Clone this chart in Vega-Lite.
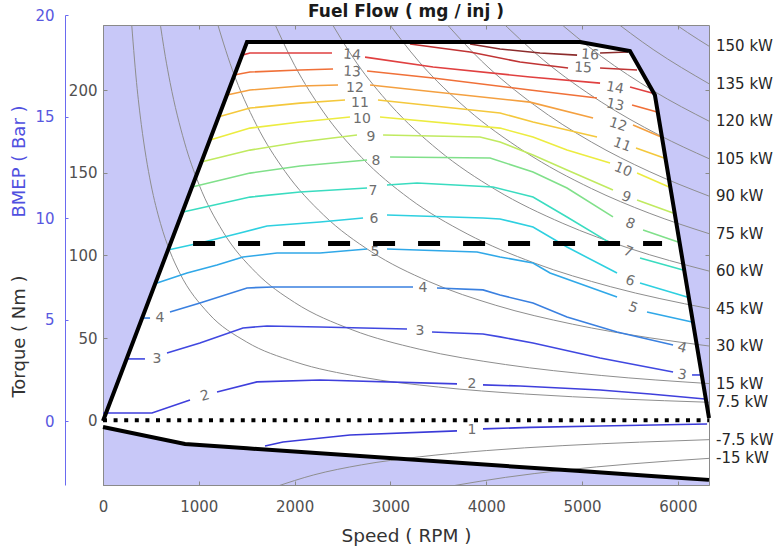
{
  "$schema": "https://vega.github.io/schema/vega-lite/v6.json",
  "autosize": {"type": "none"},
  "width": 606,
  "height": 460,
  "padding": {"left": 103, "top": 25, "right": 70, "bottom": 68},
  "background": "white",
  "config": {
    "view": {"fill": "#c8c8f8", "stroke": "#8a8a8a", "strokeWidth": 1},
    "axis": {"labelFont": "DejaVu Sans", "titleFont": "DejaVu Sans", "labelFontSize": 15, "titleFontWeight": "normal", "labelColor": "#505050", "titleColor": "#333333", "domainColor": "#8a8a8a", "tickColor": "#8a8a8a", "grid": false, "labelFlush": false},
    "text": {"font": "DejaVu Sans"}
  },
  "title": {"text": "Fuel Flow ( mg / inj )", "font": "DejaVu Sans", "fontSize": 17, "fontWeight": "bold", "color": "#1a1a1a", "anchor": "middle", "offset": -13},
  "datasets": {
    "env": [
      {"rpm": 0, "wot": 0, "motor": -3.6},
      {"rpm": 856, "wot": 130.4, "motor": -13.9},
      {"rpm": 1503, "wot": 229, "motor": -16.5},
      {"rpm": 4980, "wot": 229, "motor": -30.3},
      {"rpm": 5500, "wot": 223.6, "motor": -32.3},
      {"rpm": 5760, "wot": 197, "motor": -33.4},
      {"rpm": 6325, "wot": 1.8, "motor": -35.6}
    ],
    "power": [
      {"kw": "7.5", "rpm": 292, "torque": 245.3}, {"kw": "7.5", "rpm": 350, "torque": 204.6}, {"kw": "7.5", "rpm": 400, "torque": 179.1}, {"kw": "7.5", "rpm": 450, "torque": 159.2}, {"kw": "7.5", "rpm": 500, "torque": 143.2}, {"kw": "7.5", "rpm": 600, "torque": 119.4}, {"kw": "7.5", "rpm": 700, "torque": 102.3}, {"kw": "7.5", "rpm": 800, "torque": 89.5}, {"kw": "7.5", "rpm": 1100, "torque": 65.1}, {"kw": "7.5", "rpm": 1500, "torque": 47.7}, {"kw": "7.5", "rpm": 2000, "torque": 35.8}, {"kw": "7.5", "rpm": 2700, "torque": 26.5}, {"kw": "7.5", "rpm": 3500, "torque": 20.5}, {"kw": "7.5", "rpm": 4400, "torque": 16.3}, {"kw": "7.5", "rpm": 5400, "torque": 13.3}, {"kw": "7.5", "rpm": 6325, "torque": 11.3},
      {"kw": "15", "rpm": 585, "torque": 244.9}, {"kw": "15", "rpm": 650, "torque": 220.4}, {"kw": "15", "rpm": 700, "torque": 204.6}, {"kw": "15", "rpm": 850, "torque": 168.5}, {"kw": "15", "rpm": 1000, "torque": 143.2}, {"kw": "15", "rpm": 1250, "torque": 114.6}, {"kw": "15", "rpm": 1600, "torque": 89.5}, {"kw": "15", "rpm": 2000, "torque": 71.6}, {"kw": "15", "rpm": 2600, "torque": 55.1}, {"kw": "15", "rpm": 3300, "torque": 43.4}, {"kw": "15", "rpm": 4200, "torque": 34.1}, {"kw": "15", "rpm": 5200, "torque": 27.5}, {"kw": "15", "rpm": 6325, "torque": 22.6},
      {"kw": "30", "rpm": 1170, "torque": 244.9}, {"kw": "30", "rpm": 1350, "torque": 212.2}, {"kw": "30", "rpm": 1600, "torque": 179.1}, {"kw": "30", "rpm": 1900, "torque": 150.8}, {"kw": "30", "rpm": 2300, "torque": 124.6}, {"kw": "30", "rpm": 2800, "torque": 102.3}, {"kw": "30", "rpm": 3400, "torque": 84.3}, {"kw": "30", "rpm": 4100, "torque": 69.9}, {"kw": "30", "rpm": 4900, "torque": 58.5}, {"kw": "30", "rpm": 5700, "torque": 50.3}, {"kw": "30", "rpm": 6325, "torque": 45.3},
      {"kw": "45", "rpm": 1754, "torque": 245}, {"kw": "45", "rpm": 2000, "torque": 214.9}, {"kw": "45", "rpm": 2300, "torque": 186.8}, {"kw": "45", "rpm": 2700, "torque": 159.2}, {"kw": "45", "rpm": 3200, "torque": 134.3}, {"kw": "45", "rpm": 3800, "torque": 113.1}, {"kw": "45", "rpm": 4500, "torque": 95.5}, {"kw": "45", "rpm": 5300, "torque": 81.1}, {"kw": "45", "rpm": 6325, "torque": 67.9},
      {"kw": "60", "rpm": 2339, "torque": 245}, {"kw": "60", "rpm": 2650, "torque": 216.2}, {"kw": "60", "rpm": 3000, "torque": 191.0}, {"kw": "60", "rpm": 3500, "torque": 163.7}, {"kw": "60", "rpm": 4100, "torque": 139.7}, {"kw": "60", "rpm": 4800, "torque": 119.4}, {"kw": "60", "rpm": 5500, "torque": 104.2}, {"kw": "60", "rpm": 6325, "torque": 90.6},
      {"kw": "75", "rpm": 2923, "torque": 245}, {"kw": "75", "rpm": 3300, "torque": 217.0}, {"kw": "75", "rpm": 3800, "torque": 188.5}, {"kw": "75", "rpm": 4400, "torque": 162.8}, {"kw": "75", "rpm": 5100, "torque": 140.4}, {"kw": "75", "rpm": 5700, "torque": 125.6}, {"kw": "75", "rpm": 6325, "torque": 113.2},
      {"kw": "90", "rpm": 3508, "torque": 245}, {"kw": "90", "rpm": 3950, "torque": 217.6}, {"kw": "90", "rpm": 4500, "torque": 191.0}, {"kw": "90", "rpm": 5100, "torque": 168.5}, {"kw": "90", "rpm": 5700, "torque": 150.8}, {"kw": "90", "rpm": 6325, "torque": 135.9},
      {"kw": "105", "rpm": 4093, "torque": 245}, {"kw": "105", "rpm": 4600, "torque": 218.0}, {"kw": "105", "rpm": 5200, "torque": 192.8}, {"kw": "105", "rpm": 5800, "torque": 172.9}, {"kw": "105", "rpm": 6325, "torque": 158.5},
      {"kw": "120", "rpm": 4677, "torque": 245}, {"kw": "120", "rpm": 5200, "torque": 220.4}, {"kw": "120", "rpm": 5750, "torque": 199.3}, {"kw": "120", "rpm": 6325, "torque": 181.2},
      {"kw": "135", "rpm": 5262, "torque": 245}, {"kw": "135", "rpm": 5750, "torque": 224.2}, {"kw": "135", "rpm": 6325, "torque": 203.8},
      {"kw": "150", "rpm": 5847, "torque": 245}, {"kw": "150", "rpm": 6100, "torque": 234.8}, {"kw": "150", "rpm": 6325, "torque": 226.5},
      {"kw": "-7.5", "rpm": 1800, "torque": -39.8}, {"kw": "-7.5", "rpm": 2200, "torque": -32.6}, {"kw": "-7.5", "rpm": 2700, "torque": -26.5}, {"kw": "-7.5", "rpm": 3300, "torque": -21.7}, {"kw": "-7.5", "rpm": 4000, "torque": -17.9}, {"kw": "-7.5", "rpm": 4800, "torque": -14.9}, {"kw": "-7.5", "rpm": 5600, "torque": -12.8}, {"kw": "-7.5", "rpm": 6325, "torque": -11.3},
      {"kw": "-15", "rpm": 3650, "torque": -39.2}, {"kw": "-15", "rpm": 4200, "torque": -34.1}, {"kw": "-15", "rpm": 4800, "torque": -29.8}, {"kw": "-15", "rpm": 5500, "torque": -26.0}, {"kw": "-15", "rpm": 6325, "torque": -22.6}
    ],
    "contours": [
      {"level": 1, "seg": "1a", "rpm": 1691, "torque": -15.1}, {"level": 1, "seg": "1a", "rpm": 1879, "torque": -12.7}, {"level": 1, "seg": "1a", "rpm": 2578, "torque": -8.5}, {"level": 1, "seg": "1a", "rpm": 3695, "torque": -6.0},
      {"level": 1, "seg": "1b", "rpm": 3966, "torque": -4.8}, {"level": 1, "seg": "1b", "rpm": 4457, "torque": -3.9}, {"level": 1, "seg": "1b", "rpm": 5188, "torque": -3.0}, {"level": 1, "seg": "1b", "rpm": 6305, "torque": -1.8},
      {"level": 2, "seg": "2a", "rpm": 0, "torque": 4.8}, {"level": 2, "seg": "2a", "rpm": 511, "torque": 4.8}, {"level": 2, "seg": "2a", "rpm": 908, "torque": 12.7},
      {"level": 2, "seg": "2b", "rpm": 1190, "torque": 17.5}, {"level": 2, "seg": "2b", "rpm": 1607, "torque": 23.6}, {"level": 2, "seg": "2b", "rpm": 2265, "torque": 24.8}, {"level": 2, "seg": "2b", "rpm": 3695, "torque": 22.4},
      {"level": 2, "seg": "2c", "rpm": 3966, "torque": 21.8}, {"level": 2, "seg": "2c", "rpm": 4353, "torque": 21.1}, {"level": 2, "seg": "2c", "rpm": 5188, "torque": 18.7}, {"level": 2, "seg": "2c", "rpm": 5710, "torque": 16.3}, {"level": 2, "seg": "2c", "rpm": 6284, "torque": 13.3},
      {"level": 3, "seg": "3a", "rpm": 261, "torque": 37.5}, {"level": 3, "seg": "3a", "rpm": 438, "torque": 37.5},
      {"level": 3, "seg": "3b", "rpm": 668, "torque": 41.1}, {"level": 3, "seg": "3b", "rpm": 1012, "torque": 47.1}, {"level": 3, "seg": "3b", "rpm": 1461, "torque": 56.2}, {"level": 3, "seg": "3b", "rpm": 1712, "torque": 57.4}, {"level": 3, "seg": "3b", "rpm": 2265, "torque": 56.8}, {"level": 3, "seg": "3b", "rpm": 3173, "torque": 55.6},
      {"level": 3, "seg": "3c", "rpm": 3434, "torque": 53.8}, {"level": 3, "seg": "3c", "rpm": 3966, "torque": 52.6}, {"level": 3, "seg": "3c", "rpm": 4144, "torque": 50.8}, {"level": 3, "seg": "3c", "rpm": 4488, "torque": 47.1}, {"level": 3, "seg": "3c", "rpm": 5188, "torque": 38.1}, {"level": 3, "seg": "3c", "rpm": 5950, "torque": 29.6},
      {"level": 3, "seg": "3d", "rpm": 6148, "torque": 27.8}, {"level": 3, "seg": "3d", "rpm": 6242, "torque": 27.8},
      {"level": 4, "seg": "4a", "rpm": 407, "torque": 62.2}, {"level": 4, "seg": "4a", "rpm": 491, "torque": 62.2},
      {"level": 4, "seg": "4b", "rpm": 699, "torque": 65.9}, {"level": 4, "seg": "4b", "rpm": 1012, "torque": 71.3}, {"level": 4, "seg": "4b", "rpm": 1503, "torque": 80.4}, {"level": 4, "seg": "4b", "rpm": 1775, "torque": 81.0}, {"level": 4, "seg": "4b", "rpm": 2265, "torque": 81.0}, {"level": 4, "seg": "4b", "rpm": 3236, "torque": 81.0},
      {"level": 4, "seg": "4c", "rpm": 3486, "torque": 80.4}, {"level": 4, "seg": "4c", "rpm": 3966, "torque": 79.2}, {"level": 4, "seg": "4c", "rpm": 4144, "torque": 76.1}, {"level": 4, "seg": "4c", "rpm": 4488, "torque": 71.3}, {"level": 4, "seg": "4c", "rpm": 4843, "torque": 62.8}, {"level": 4, "seg": "4c", "rpm": 5365, "torque": 53.8}, {"level": 4, "seg": "4c", "rpm": 5950, "torque": 45.9},
      {"level": 5, "seg": "5a", "rpm": 564, "torque": 83.4}, {"level": 5, "seg": "5a", "rpm": 877, "torque": 89.4}, {"level": 5, "seg": "5a", "rpm": 1190, "torque": 94.3}, {"level": 5, "seg": "5a", "rpm": 1461, "torque": 99.1}, {"level": 5, "seg": "5a", "rpm": 1816, "torque": 101.5}, {"level": 5, "seg": "5a", "rpm": 2265, "torque": 101.5}, {"level": 5, "seg": "5a", "rpm": 2756, "torque": 103.9},
      {"level": 5, "seg": "5b", "rpm": 2964, "torque": 103.9}, {"level": 5, "seg": "5b", "rpm": 3904, "torque": 102.1}, {"level": 5, "seg": "5b", "rpm": 4144, "torque": 99.1}, {"level": 5, "seg": "5b", "rpm": 4488, "torque": 95.5}, {"level": 5, "seg": "5b", "rpm": 4666, "torque": 89.4}, {"level": 5, "seg": "5b", "rpm": 5365, "torque": 74.9},
      {"level": 5, "seg": "5c", "rpm": 5678, "torque": 65.9}, {"level": 5, "seg": "5c", "rpm": 6148, "torque": 59.8},
      {"level": 6, "seg": "6a", "rpm": 678, "torque": 103.3}, {"level": 6, "seg": "6a", "rpm": 1012, "torque": 107.6}, {"level": 6, "seg": "6a", "rpm": 1430, "torque": 113.6}, {"level": 6, "seg": "6a", "rpm": 1712, "torque": 117.8}, {"level": 6, "seg": "6a", "rpm": 2265, "torque": 120.2}, {"level": 6, "seg": "6a", "rpm": 2714, "torque": 122.7},
      {"level": 6, "seg": "6b", "rpm": 2964, "torque": 124.5}, {"level": 6, "seg": "6b", "rpm": 3966, "torque": 122.7}, {"level": 6, "seg": "6b", "rpm": 4144, "torque": 122.1}, {"level": 6, "seg": "6b", "rpm": 4488, "torque": 117.2}, {"level": 6, "seg": "6b", "rpm": 4843, "torque": 105.1}, {"level": 6, "seg": "6b", "rpm": 5365, "torque": 89.4},
      {"level": 6, "seg": "6c", "rpm": 5605, "torque": 83.4}, {"level": 6, "seg": "6c", "rpm": 6096, "torque": 74.9},
      {"level": 7, "seg": "7a", "rpm": 835, "torque": 126.3}, {"level": 7, "seg": "7a", "rpm": 1534, "torque": 135.3}, {"level": 7, "seg": "7a", "rpm": 2056, "torque": 138.4}, {"level": 7, "seg": "7a", "rpm": 2756, "torque": 140.8},
      {"level": 7, "seg": "7b", "rpm": 2964, "torque": 142.6}, {"level": 7, "seg": "7b", "rpm": 3278, "torque": 143.8}, {"level": 7, "seg": "7b", "rpm": 4071, "torque": 141.4}, {"level": 7, "seg": "7b", "rpm": 4488, "torque": 135.3}, {"level": 7, "seg": "7b", "rpm": 4843, "torque": 123.3}, {"level": 7, "seg": "7b", "rpm": 5292, "torque": 107.6},
      {"level": 7, "seg": "7c", "rpm": 5605, "torque": 98.5}, {"level": 7, "seg": "7c", "rpm": 6054, "torque": 91.2},
      {"level": 8, "seg": "8a", "rpm": 929, "torque": 141.4}, {"level": 8, "seg": "8a", "rpm": 1534, "torque": 149.8}, {"level": 8, "seg": "8a", "rpm": 2056, "torque": 154.1}, {"level": 8, "seg": "8a", "rpm": 2756, "torque": 157.7},
      {"level": 8, "seg": "8b", "rpm": 2996, "torque": 159.5}, {"level": 8, "seg": "8b", "rpm": 4040, "torque": 158.9}, {"level": 8, "seg": "8b", "rpm": 4488, "torque": 150.5}, {"level": 8, "seg": "8b", "rpm": 4843, "torque": 140.8}, {"level": 8, "seg": "8b", "rpm": 5323, "torque": 123.3},
      {"level": 8, "seg": "8c", "rpm": 5637, "torque": 115.4}, {"level": 8, "seg": "8c", "rpm": 6002, "torque": 108.2},
      {"level": 9, "seg": "9a", "rpm": 1023, "torque": 156.5}, {"level": 9, "seg": "9a", "rpm": 1534, "torque": 163.7}, {"level": 9, "seg": "9a", "rpm": 2056, "torque": 168.6}, {"level": 9, "seg": "9a", "rpm": 2651, "torque": 172.8},
      {"level": 9, "seg": "9b", "rpm": 2923, "torque": 172.8}, {"level": 9, "seg": "9b", "rpm": 3935, "torque": 171.6}, {"level": 9, "seg": "9b", "rpm": 4144, "torque": 168.6}, {"level": 9, "seg": "9b", "rpm": 4488, "torque": 160.7}, {"level": 9, "seg": "9b", "rpm": 4843, "torque": 151.7}, {"level": 9, "seg": "9b", "rpm": 5323, "torque": 139.6},
      {"level": 9, "seg": "9c", "rpm": 5574, "torque": 133.5}, {"level": 9, "seg": "9c", "rpm": 5950, "torque": 125.7},
      {"level": 10, "seg": "10a", "rpm": 1117, "torque": 169.8}, {"level": 10, "seg": "10a", "rpm": 1534, "torque": 177.0}, {"level": 10, "seg": "10a", "rpm": 2056, "torque": 180.7}, {"level": 10, "seg": "10a", "rpm": 2578, "torque": 183.7},
      {"level": 10, "seg": "10b", "rpm": 2891, "torque": 183.7}, {"level": 10, "seg": "10b", "rpm": 4144, "torque": 177.0}, {"level": 10, "seg": "10b", "rpm": 4488, "torque": 171.6}, {"level": 10, "seg": "10b", "rpm": 4843, "torque": 163.7}, {"level": 10, "seg": "10b", "rpm": 5292, "torque": 155.9},
      {"level": 10, "seg": "10c", "rpm": 5574, "torque": 149.8}, {"level": 10, "seg": "10c", "rpm": 5908, "torque": 141.4},
      {"level": 11, "seg": "11a", "rpm": 1200, "torque": 183.7}, {"level": 11, "seg": "11a", "rpm": 1534, "torque": 189.1}, {"level": 11, "seg": "11a", "rpm": 2056, "torque": 192.1}, {"level": 11, "seg": "11a", "rpm": 2526, "torque": 194.0},
      {"level": 11, "seg": "11b", "rpm": 2870, "torque": 194.0}, {"level": 11, "seg": "11b", "rpm": 4144, "torque": 186.1}, {"level": 11, "seg": "11b", "rpm": 4488, "torque": 180.7}, {"level": 11, "seg": "11b", "rpm": 5156, "torque": 171.6},
      {"level": 11, "seg": "11c", "rpm": 5563, "torque": 164.9}, {"level": 11, "seg": "11c", "rpm": 5856, "torque": 158.9},
      {"level": 12, "seg": "12a", "rpm": 1294, "torque": 197.0}, {"level": 12, "seg": "12a", "rpm": 1534, "torque": 200.0}, {"level": 12, "seg": "12a", "rpm": 2056, "torque": 202.4}, {"level": 12, "seg": "12a", "rpm": 2453, "torque": 203.0},
      {"level": 12, "seg": "12b", "rpm": 2787, "torque": 203.0}, {"level": 12, "seg": "12b", "rpm": 4457, "torque": 192.7}, {"level": 12, "seg": "12b", "rpm": 5115, "torque": 183.1},
      {"level": 12, "seg": "12c", "rpm": 5532, "torque": 178.9}, {"level": 12, "seg": "12c", "rpm": 5814, "torque": 171.9},
      {"level": 13, "seg": "13a", "rpm": 1367, "torque": 209.1}, {"level": 13, "seg": "13a", "rpm": 1534, "torque": 210.9}, {"level": 13, "seg": "13a", "rpm": 2056, "torque": 212.1}, {"level": 13, "seg": "13a", "rpm": 2401, "torque": 212.7},
      {"level": 13, "seg": "13b", "rpm": 2756, "torque": 211.5}, {"level": 13, "seg": "13b", "rpm": 3445, "torque": 207.3}, {"level": 13, "seg": "13b", "rpm": 4457, "torque": 200.0}, {"level": 13, "seg": "13b", "rpm": 5156, "torque": 195.2},
      {"level": 13, "seg": "13c", "rpm": 5522, "torque": 190.9}, {"level": 13, "seg": "13c", "rpm": 5783, "torque": 186.7},
      {"level": 14, "seg": "14a", "rpm": 1451, "torque": 221.1}, {"level": 14, "seg": "14a", "rpm": 1534, "torque": 222.4}, {"level": 14, "seg": "14a", "rpm": 2056, "torque": 222.4}, {"level": 14, "seg": "14a", "rpm": 2390, "torque": 222.4},
      {"level": 14, "seg": "14b", "rpm": 2735, "torque": 219.9}, {"level": 14, "seg": "14b", "rpm": 3445, "torque": 213.9}, {"level": 14, "seg": "14b", "rpm": 4457, "torque": 207.9}, {"level": 14, "seg": "14b", "rpm": 5188, "torque": 204.2},
      {"level": 14, "seg": "14c", "rpm": 5501, "torque": 201.8}, {"level": 14, "seg": "14c", "rpm": 5730, "torque": 198.2},
      {"level": 15, "seg": "15a", "rpm": 3204, "torque": 227.8}, {"level": 15, "seg": "15a", "rpm": 3831, "torque": 223.0}, {"level": 15, "seg": "15a", "rpm": 4353, "torque": 216.9}, {"level": 15, "seg": "15a", "rpm": 4854, "torque": 213.3},
      {"level": 15, "seg": "15b", "rpm": 5188, "torque": 213.3}, {"level": 15, "seg": "15b", "rpm": 5574, "torque": 212.1},
      {"level": 16, "seg": "16a", "rpm": 3831, "torque": 227.8}, {"level": 16, "seg": "16a", "rpm": 4144, "torque": 224.8}, {"level": 16, "seg": "16a", "rpm": 4561, "torque": 222.4}, {"level": 16, "seg": "16a", "rpm": 4948, "torque": 221.1},
      {"level": 16, "seg": "16b", "rpm": 5188, "torque": 222.4}, {"level": 16, "seg": "16b", "rpm": 5480, "torque": 223.0}
    ],
    "labels": [
      {"level": 1, "rpm": 3852, "torque": -5.7, "angle": 0},
      {"level": 2, "rpm": 1065, "torque": 15.1, "angle": -15}, {"level": 2, "rpm": 3852, "torque": 22.2, "angle": 0},
      {"level": 3, "rpm": 564, "torque": 37.5, "angle": 0}, {"level": 3, "rpm": 3309, "torque": 54.4, "angle": 0}, {"level": 3, "rpm": 6044, "torque": 27.8, "angle": 10},
      {"level": 4, "rpm": 595, "torque": 62.2, "angle": 0}, {"level": 4, "rpm": 3340, "torque": 80.4, "angle": 0}, {"level": 4, "rpm": 6044, "torque": 44.1, "angle": 15},
      {"level": 5, "rpm": 2839, "torque": 102.1, "angle": 0}, {"level": 5, "rpm": 5532, "torque": 68.3, "angle": 20},
      {"level": 6, "rpm": 2829, "torque": 122.1, "angle": 0}, {"level": 6, "rpm": 5501, "torque": 84.6, "angle": 20},
      {"level": 7, "rpm": 2818, "torque": 139.0, "angle": 0}, {"level": 7, "rpm": 5480, "torque": 102.1, "angle": 22},
      {"level": 8, "rpm": 2850, "torque": 157.1, "angle": 0}, {"level": 8, "rpm": 5501, "torque": 119.0, "angle": 22},
      {"level": 9, "rpm": 2797, "torque": 171.6, "angle": 0}, {"level": 9, "rpm": 5459, "torque": 135.3, "angle": 22},
      {"level": 10, "rpm": 2703, "torque": 182.5, "angle": 0}, {"level": 10, "rpm": 5428, "torque": 151.7, "angle": 22},
      {"level": 11, "rpm": 2682, "torque": 192.1, "angle": 0}, {"level": 11, "rpm": 5417, "torque": 166.8, "angle": 20},
      {"level": 12, "rpm": 2630, "torque": 201.2, "angle": 0}, {"level": 12, "rpm": 5376, "torque": 178.9, "angle": 18},
      {"level": 13, "rpm": 2599, "torque": 210.9, "angle": 3}, {"level": 13, "rpm": 5344, "torque": 190.9, "angle": 12},
      {"level": 14, "rpm": 2599, "torque": 221.1, "angle": 5}, {"level": 14, "rpm": 5344, "torque": 201.2, "angle": 10},
      {"level": 15, "rpm": 5010, "torque": 213.3, "angle": 3},
      {"level": 16, "rpm": 5083, "torque": 221.1, "angle": 5}
    ],
    "kwlabels": [
      {"rpm": 6325, "torque": 226.5, "label": "150 kW"}, {"rpm": 6325, "torque": 203.8, "label": "135 kW"}, {"rpm": 6325, "torque": 181.2, "label": "120 kW"}, {"rpm": 6325, "torque": 158.5, "label": "105 kW"}, {"rpm": 6325, "torque": 135.9, "label": "90 kW"}, {"rpm": 6325, "torque": 113.2, "label": "75 kW"}, {"rpm": 6325, "torque": 90.6, "label": "60 kW"}, {"rpm": 6325, "torque": 67.9, "label": "45 kW"}, {"rpm": 6325, "torque": 45.3, "label": "30 kW"}, {"rpm": 6325, "torque": 22.6, "label": "15 kW"}, {"rpm": 6325, "torque": 11.3, "label": "7.5 kW"}, {"rpm": 6325, "torque": -11.3, "label": "-7.5 kW"}, {"rpm": 6325, "torque": -22.6, "label": "-15 kW"}
    ],
    "dashed": [{"rpm": 940, "torque": 107.3}, {"rpm": 5835, "torque": 107.3}],
    "dotted": [{"rpm": 0, "torque": 0.4}, {"rpm": 6325, "torque": 0.4}],
    "bmep": [{"bar": 0}, {"bar": 20}],
    "box": [{"rpm": 0, "torque": 0}]
  },
  "layer": [
    {
      "data": {"name": "env"},
      "mark": {"type": "area", "fill": "white"},
      "encoding": {
        "x": {"field": "rpm", "type": "quantitative", "scale": {"domain": [0, 6325], "nice": false, "zero": false},
              "axis": {"orient": "bottom", "values": [0, 1000, 2000, 3000, 4000, 5000, 6000], "format": "d", "title": "Speed ( RPM )", "titleFontSize": 18.5, "tickSize": -4, "labelPadding": 18, "titleY": 56, "titleBaseline": "alphabetic", "titleAnchor": "middle"}},
        "y": {"field": "wot", "type": "quantitative", "scale": {"domain": [-38.7, 239.3], "nice": false, "zero": false},
              "axis": {"orient": "left", "values": [0, 50, 100, 150, 200], "format": "d", "title": "Torque ( Nm )", "titleFontSize": 18, "tickSize": -4, "labelPadding": 10, "titleX": -84, "titleY": 311, "titleAngle": 270, "titleAlign": "center", "titleBaseline": "middle"}},
        "y2": {"field": "motor"}
      }
    },
    {
      "data": {"name": "power"},
      "mark": {"type": "line", "stroke": "#8e8e8e", "strokeWidth": 1, "interpolate": "monotone", "clip": true},
      "encoding": {
        "x": {"field": "rpm", "type": "quantitative", "scale": {"domain": [0, 6325], "nice": false, "zero": false}, "axis": null},
        "y": {"field": "torque", "type": "quantitative", "scale": {"domain": [-38.7, 239.3], "nice": false, "zero": false}, "axis": null},
        "detail": {"field": "kw", "type": "nominal"}
      }
    },
    {
      "data": {"name": "contours"},
      "mark": {"type": "line", "strokeWidth": 1.6, "clip": true},
      "encoding": {
        "x": {"field": "rpm", "type": "quantitative", "scale": {"domain": [0, 6325], "nice": false, "zero": false}, "axis": null},
        "y": {"field": "torque", "type": "quantitative", "scale": {"domain": [-38.7, 239.3], "nice": false, "zero": false}, "axis": null},
        "color": {"field": "level", "type": "ordinal", "legend": null,
                  "scale": {"domain": [1, 2, 3, 4, 5, 6, 7, 8, 9, 10, 11, 12, 13, 14, 15, 16],
                            "range": ["#3a3ad8", "#3f3fdc", "#4048e0", "#3a80e0", "#30a8e8", "#2ed0e0", "#3adcc0", "#80e08a", "#c0ea60", "#ecec40", "#f4c83c", "#f4a040", "#f07038", "#e04040", "#c03434", "#8c2c2c"]}},
        "detail": {"field": "seg", "type": "nominal"}
      }
    },
    {
      "data": {"name": "labels"},
      "mark": {"type": "text", "font": "DejaVu Sans", "fontSize": 14, "fill": "#6e6e6e", "align": "center", "baseline": "middle"},
      "encoding": {
        "x": {"field": "rpm", "type": "quantitative", "scale": {"domain": [0, 6325], "nice": false, "zero": false}, "axis": null},
        "y": {"field": "torque", "type": "quantitative", "scale": {"domain": [-38.7, 239.3], "nice": false, "zero": false}, "axis": null},
        "text": {"field": "level", "type": "quantitative"},
        "angle": {"field": "angle", "type": "quantitative", "scale": null}
      }
    },
    {
      "data": {"name": "env"},
      "mark": {"type": "line", "stroke": "black", "strokeWidth": 4, "strokeJoin": "miter"},
      "encoding": {
        "x": {"field": "rpm", "type": "quantitative", "scale": {"domain": [0, 6325], "nice": false, "zero": false}, "axis": null},
        "y": {"field": "wot", "type": "quantitative", "scale": {"domain": [-38.7, 239.3], "nice": false, "zero": false}, "axis": null}
      }
    },
    {
      "data": {"name": "env"},
      "mark": {"type": "line", "stroke": "black", "strokeWidth": 4, "strokeJoin": "miter"},
      "encoding": {
        "x": {"field": "rpm", "type": "quantitative", "scale": {"domain": [0, 6325], "nice": false, "zero": false}, "axis": null},
        "y": {"field": "motor", "type": "quantitative", "scale": {"domain": [-38.7, 239.3], "nice": false, "zero": false}, "axis": null}
      }
    },
    {
      "data": {"name": "dashed"},
      "mark": {"type": "line", "stroke": "black", "strokeWidth": 5, "strokeDash": [22, 23], "strokeCap": "butt"},
      "encoding": {
        "x": {"field": "rpm", "type": "quantitative", "scale": {"domain": [0, 6325], "nice": false, "zero": false}, "axis": null},
        "y": {"field": "torque", "type": "quantitative", "scale": {"domain": [-38.7, 239.3], "nice": false, "zero": false}, "axis": null}
      }
    },
    {
      "data": {"name": "dotted"},
      "mark": {"type": "line", "stroke": "black", "strokeWidth": 4, "strokeDash": [4, 6.6], "strokeCap": "butt"},
      "encoding": {
        "x": {"field": "rpm", "type": "quantitative", "scale": {"domain": [0, 6325], "nice": false, "zero": false}, "axis": null},
        "y": {"field": "torque", "type": "quantitative", "scale": {"domain": [-38.7, 239.3], "nice": false, "zero": false}, "axis": null}
      }
    },
    {
      "data": {"name": "kwlabels"},
      "mark": {"type": "text", "font": "DejaVu Sans", "fontSize": 15, "fill": "#262626", "align": "left", "baseline": "middle", "dx": 7, "clip": false},
      "encoding": {
        "x": {"field": "rpm", "type": "quantitative", "scale": {"domain": [0, 6325], "nice": false, "zero": false}, "axis": null},
        "y": {"field": "torque", "type": "quantitative", "scale": {"domain": [-38.7, 239.3], "nice": false, "zero": false}, "axis": null},
        "text": {"field": "label", "type": "nominal"}
      }
    },
    {
      "data": {"name": "bmep"},
      "mark": {"type": "point", "opacity": 0},
      "encoding": {
        "y": {"field": "bar", "type": "quantitative", "scale": {"domain": [-3.15, 20], "range": [460, -10], "nice": false, "zero": false},
              "axis": {"orient": "left", "offset": 38, "values": [0, 5, 10, 15, 20], "format": "d", "title": "BMEP ( Bar )", "titleFontSize": 18, "titleColor": "#5050e0", "labelColor": "#5858e0", "domainColor": "#6a6af0", "tickColor": "#6a6af0", "tickSize": -3, "labelPadding": 14, "titleX": -46, "titleY": 136, "titleAngle": 270, "titleAlign": "center", "titleBaseline": "middle"}}
      }
    },
    {
      "data": {"name": "box"},
      "mark": {"type": "point", "opacity": 0},
      "encoding": {
        "x": {"field": "rpm", "type": "quantitative", "scale": {"domain": [0, 6325], "nice": false, "zero": false},
              "axis": {"orient": "top", "values": [0, 1000, 2000, 3000, 4000, 5000, 6000], "labels": false, "domain": false, "tickSize": -4, "title": null}},
        "y": {"field": "torque", "type": "quantitative", "scale": {"domain": [-38.7, 239.3], "nice": false, "zero": false},
              "axis": {"orient": "right", "values": [0, 50, 100, 150, 200], "labels": false, "domain": false, "tickSize": -4, "title": null}}
      }
    }
  ],
  "resolve": {"scale": {"x": "independent", "y": "independent"}, "axis": {"x": "independent", "y": "independent"}}
}
